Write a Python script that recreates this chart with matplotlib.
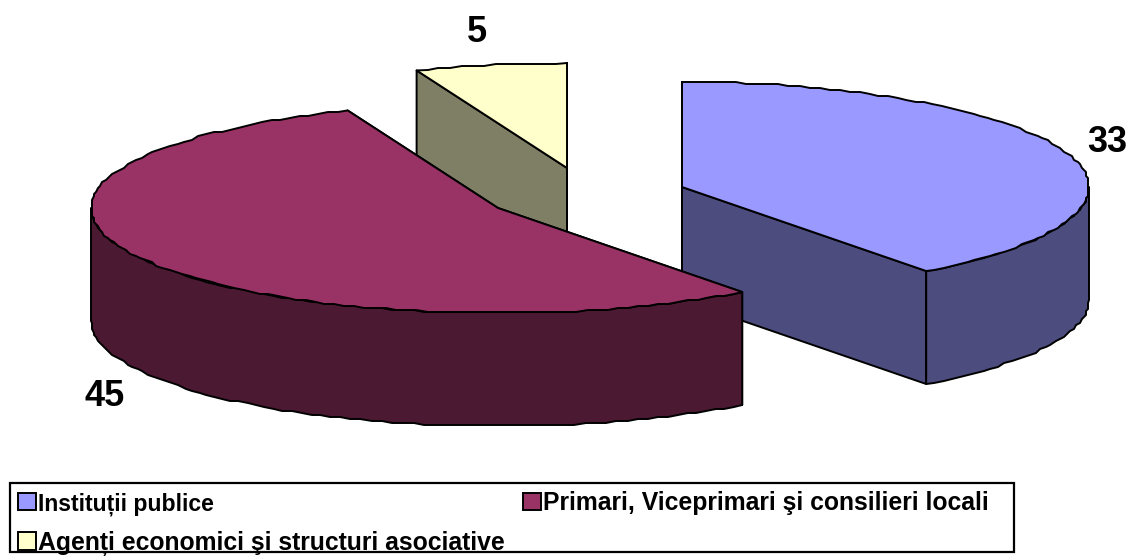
import matplotlib
matplotlib.use('Agg')
import matplotlib.pyplot as plt
import numpy as np
from matplotlib.patches import Patch, Polygon, Rectangle

plt.rcParams['font.family'] = ['Liberation Sans', 'DejaVu Sans']

categories = ['Instituții publice', 'Primari, Viceprimari şi consilieri locali',
              'Agenți economici şi structuri asociative']
values = [33, 45, 5]
top_colors = ['#9999FF', '#993366', '#FFFFCC']
side_colors = ['#4C4C7F', '#4C1933', '#7F7F66']

# pie geometry in pixels, the y axis runs down
centers = [(682, 187), (498, 208), (567, 168)]
label_pos = [(1107, 143), (105, 396), (477, 33)]
draw_order = [2, 0, 1]
RX, RY = 407, 105
DEPTH = 113
LW = 1.4
GRID = 2  # the original arcs look snapped to a coarse grid

angles = np.concatenate([[0], np.cumsum(values)]) / sum(values) * 360


def rim(cx, cy, a0, a1):
    n = max(int((a1 - a0) / 1.5), 2)
    t = np.radians(np.linspace(a0, a1, n))
    pts = np.column_stack([cx + RX * np.sin(t), cy - RY * np.cos(t)])
    snapped = np.round(pts / GRID) * GRID
    snapped[[0, -1]] = pts[[0, -1]]
    return snapped


fig = plt.figure(figsize=(11.28, 5.59), dpi=100)
ax = fig.add_axes([0, 0, 1, 1])
ax.set_xlim(0, 1128)
ax.set_ylim(559, 0)
ax.axis('off')

for i in draw_order:
    cx, cy = centers[i]
    a0, a1 = angles[i], angles[i + 1]
    kw = dict(edgecolor='black', linewidth=LW, joinstyle='round')

    # radial faces
    for a in (a0, a1):
        p = rim(cx, cy, a, a + 0.01)[0]
        face = [(cx, cy), p, (p[0], p[1] + DEPTH), (cx, cy + DEPTH)]
        ax.add_patch(Polygon(face, facecolor=side_colors[i], **kw))

    # outer wall, only the front half shows
    w0, w1 = max(a0, 90), min(a1, 270)
    if w1 > w0:
        arc = rim(cx, cy, w0, w1)
        wall = np.vstack([arc, arc[::-1] + [0, DEPTH]])
        ax.add_patch(Polygon(wall, facecolor=side_colors[i], **kw))

    # top
    top = np.vstack([[(cx, cy)], rim(cx, cy, a0, a1)])
    ax.add_patch(Polygon(top, facecolor=top_colors[i], **kw))

for v, (x, y) in zip(values, label_pos):
    ax.text(x, y, str(v), fontsize=26, fontweight='bold', ha='center', va='center')

# legend box drawn apart, the frame is wider than the entries
ax.add_patch(Rectangle((10, 483), 1004, 69, facecolor='white', edgecolor='black', linewidth=1.6))

# legend fills column by column
order = [0, 2, 1]
handles = [Patch(facecolor=top_colors[i], edgecolor='black', linewidth=1.4, label=categories[i])
           for i in order]
leg = fig.legend(handles=handles, ncol=2, loc='upper left',
                 bbox_to_anchor=(18 / 1128, 1 - 491 / 559),
                 frameon=False, prop={'size': 17.8, 'weight': 'bold'},
                 handlelength=0.72, handleheight=0.72, handletextpad=0.1, borderaxespad=0,
                 borderpad=0, labelspacing=0.62, columnspacing=0.72)
# the short entry is set tighter in the original
leg.get_texts()[0].set_fontsize(16.6)

fig.savefig('out.png', dpi=100)
